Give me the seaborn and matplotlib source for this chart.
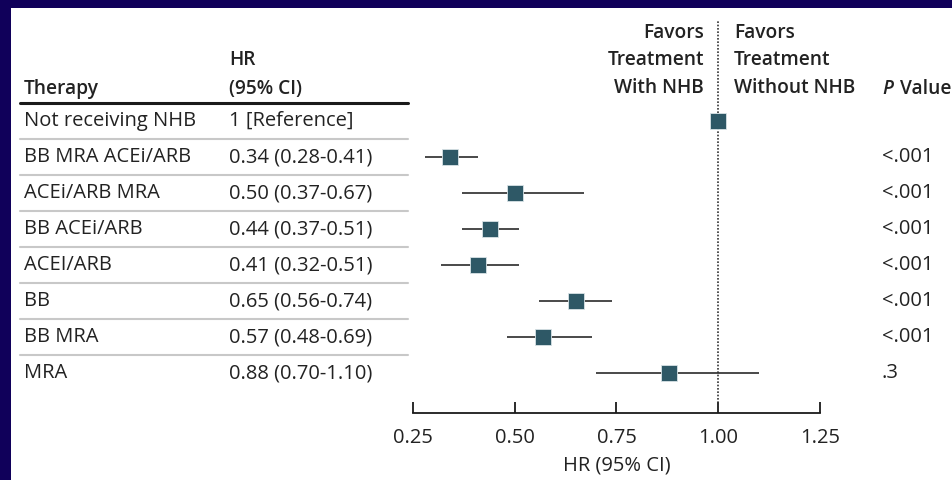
import matplotlib
matplotlib.use("Agg")
import matplotlib.pyplot as plt
import matplotlib.transforms as mtransforms
from matplotlib.patches import Rectangle
import seaborn as sns
import pandas as pd

therapies = ["Not receiving NHB", "BB MRA ACEi/ARB", "ACEi/ARB MRA", "BB ACEi/ARB",
             "ACEI/ARB", "BB", "BB MRA", "MRA"]
hr = [1.00, 0.34, 0.50, 0.44, 0.41, 0.65, 0.57, 0.88]
lower = [None, 0.28, 0.37, 0.37, 0.32, 0.56, 0.48, 0.70]
upper = [None, 0.41, 0.67, 0.51, 0.51, 0.74, 0.69, 1.10]
hr_text = ["1 [Reference]", "0.34 (0.28-0.41)", "0.50 (0.37-0.67)", "0.44 (0.37-0.51)",
           "0.41 (0.32-0.51)", "0.65 (0.56-0.74)", "0.57 (0.48-0.69)", "0.88 (0.70-1.10)"]
p_values = ["", "<.001", "<.001", "<.001", "<.001", "<.001", "<.001", ".3"]
x_ticks = [0.25, 0.50, 0.75, 1.00, 1.25]
x_tick_labels = ["0.25", "0.50", "0.75", "1.00", "1.25"]

df = pd.DataFrame({"therapy": therapies, "hr": hr, "lower": lower, "upper": upper,
                   "row": list(range(len(therapies)))})

sns.set_theme(style="white")
FONT = "Open Sans"
plt.rcParams["font.family"] = [FONT, "DejaVu Sans"]
FS = 14.5
HFS = 13.8

W, H = 953, 480
fig = plt.figure(figsize=(W / 100, H / 100), dpi=100)
fig.patch.set_facecolor("#10005a")
fig.add_artist(Rectangle((11 / W, 0), 1 - 11 / W, 1 - 8 / H, transform=fig.transFigure,
                         facecolor="white", edgecolor="none", zorder=0))

# axes: x 413..820 px, y 20..413 px (from top)
ax = fig.add_axes([413 / W, 1 - 413 / H, (820 - 413) / W, (413 - 20) / H])
ax.set_facecolor("none")
row0, step = 121, 36
ax.set_ylim((413 - row0) / step, (20 - row0) / step)
ax.set_xlim(0.25, 1.25)

ci = df.dropna()
ax.hlines(ci["row"], ci["lower"], ci["upper"], color="#2a2a2a", lw=1.2, zorder=2)
sns.scatterplot(data=df, x="hr", y="row", marker="s", s=125, color="#2e5866",
                edgecolor="#d8e2e6", linewidth=0.6, ax=ax, zorder=3, legend=False)
ax.axvline(1.0, color="#333333", lw=1.2, ls=(0, (1, 1)), zorder=1)

for s in ["top", "right", "left"]:
    ax.spines[s].set_visible(False)
ax.spines["bottom"].set_color("#1a1a1a")
ax.spines["bottom"].set_linewidth(1.3)
ax.set_yticks([])
ax.set_xticks(x_ticks)
ax.set_xticklabels(x_tick_labels, fontsize=FS, color="#222222")
ax.tick_params(axis="x", direction="in", length=8, width=1.3, color="#1a1a1a", pad=11,
               bottom=True)
ax.set_xlabel("HR (95% CI)", fontsize=FS, color="#222222", labelpad=5)
ax.set_ylabel("")

tr = mtransforms.blended_transform_factory(fig.transFigure, ax.transData)
for i in range(len(therapies)):
    ax.text(24 / W, i, therapies[i], transform=tr, fontsize=FS, va="center", ha="left",
            color="#222222", clip_on=False)
    ax.text(229 / W, i, hr_text[i], transform=tr, fontsize=FS, va="center", ha="left",
            color="#222222", clip_on=False)
    if p_values[i]:
        ax.text(882 / W, i, p_values[i], transform=tr, fontsize=FS, va="center", ha="left",
                color="#222222", clip_on=False)
    if i < len(therapies) - 1:
        ax.plot([20 / W, 408 / W], [i + 0.5, i + 0.5], transform=tr, color="#c8c8c8",
                lw=1.5, clip_on=False)

ax.plot([20 / W, 408 / W], [-0.5, -0.5], transform=tr, color="#1a1a1a", lw=2.2, clip_on=False)

def fy(py):
    return 1 - py / H

bold = dict(fontsize=HFS, fontweight="semibold", color="#222222")
fig.text(24 / W, fy(89), "Therapy", ha="left", va="center", **bold)
fig.text(229 / W, fy(60), "HR", ha="left", va="center", **bold)
fig.text(229 / W, fy(89), "(95% CI)", ha="left", va="center", **bold)
for line, py in zip(["Favors", "Treatment", "With NHB"], [33, 60, 88]):
    fig.text(704 / W, fy(py), line, ha="right", va="center", **bold)
for line, py in zip(["Favors", "Treatment", "Without NHB"], [33, 60, 88]):
    fig.text(734 / W, fy(py), line, ha="left", va="center", **bold)
fig.text(882 / W, fy(89), "P", ha="left", va="center", fontstyle="italic", **bold)
fig.text(900 / W, fy(89), "Value", ha="left", va="center", **bold)

fig.savefig("out.png", dpi=100, facecolor=fig.get_facecolor())
